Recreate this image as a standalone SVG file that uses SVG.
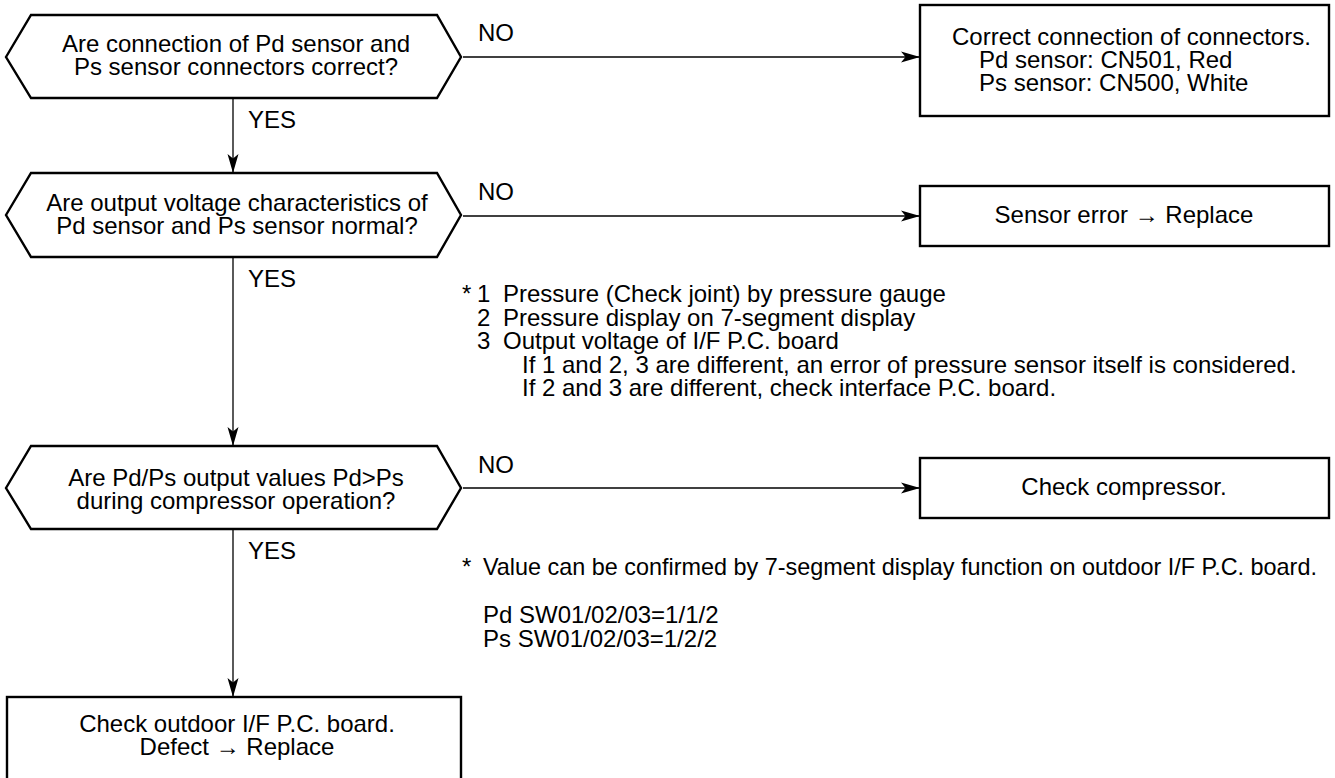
<svg xmlns="http://www.w3.org/2000/svg" width="1335" height="778" viewBox="0 0 1335 778">
  <style>
    .t { font-family: "Liberation Sans", Arial, sans-serif; font-size: 24px; fill: #000; }
    .s { font-size: 23.4px; }
    .c { text-anchor: middle; }
    .shape { fill: #fff; stroke: #000; stroke-width: 2.4; stroke-linejoin: miter; }
    .conn { fill: none; stroke: #000; stroke-width: 1.3; }
  </style>
  <defs>
    <marker id="arr" markerUnits="userSpaceOnUse" markerWidth="22" markerHeight="12" refX="19" refY="5.5" orient="auto" overflow="visible">
      <path d="M0,0 L19,5.5 L0,11 L4.5,5.5 Z" fill="#000"/>
    </marker>
  </defs>
  <rect width="1335" height="778" fill="#fff"/>

  <g id="connectors">
    <line class="conn" x1="233" y1="98" x2="233" y2="173" marker-end="url(#arr)"/>
    <line class="conn" x1="233" y1="257" x2="233" y2="446" marker-end="url(#arr)"/>
    <line class="conn" x1="233" y1="529" x2="233" y2="697" marker-end="url(#arr)"/>
    <line class="conn" x1="463" y1="57" x2="920" y2="57" marker-end="url(#arr)"/>
    <line class="conn" x1="463" y1="216" x2="920" y2="216" marker-end="url(#arr)"/>
    <line class="conn" x1="463" y1="488" x2="920" y2="488" marker-end="url(#arr)"/>
    <text class="t" x="248" y="128">YES</text>
    <text class="t" x="248" y="287">YES</text>
    <text class="t" x="248" y="559">YES</text>
    <text class="t" x="478" y="41">NO</text>
    <text class="t" x="478" y="200">NO</text>
    <text class="t" x="478" y="473">NO</text>
  </g>

  <g id="q1">
    <polygon class="shape" points="6,57 31,15 437,15 461,57 437,98 31,98"/>
    <text class="t c" x="236" y="52">Are connection of Pd sensor and</text>
    <text class="t c" x="236" y="75">Ps sensor connectors correct?</text>
  </g>

  <g id="q2">
    <polygon class="shape" points="6,215 31,173 437,173 461,215 437,257 31,257"/>
    <text class="t c" x="237" y="211">Are output voltage characteristics of</text>
    <text class="t c" x="237" y="234">Pd sensor and Ps sensor normal?</text>
  </g>

  <g id="q3">
    <polygon class="shape" points="6,488 31,446 437,446 461,488 437,529 31,529"/>
    <text class="t c" x="236" y="486">Are Pd/Ps output values Pd&gt;Ps</text>
    <text class="t c" x="236" y="509">during compressor operation?</text>
  </g>

  <g id="fix-connectors">
    <rect class="shape" x="920" y="5" width="409" height="111"/>
    <text class="t" x="952" y="45">Correct connection of connectors.</text>
    <text class="t" x="979" y="68">Pd sensor: CN501, Red</text>
    <text class="t" x="979" y="91">Ps sensor: CN500, White</text>
  </g>

  <g id="sensor-error">
    <rect class="shape" x="920" y="186" width="409" height="60"/>
    <text class="t c" x="1124" y="223">Sensor error → Replace</text>
  </g>

  <g id="check-compressor">
    <rect class="shape" x="920" y="458" width="409" height="60"/>
    <text class="t c" x="1124" y="495">Check compressor.</text>
  </g>

  <g id="check-board">
    <rect class="shape" x="7" y="697" width="454" height="90"/>
    <text class="t c" x="237" y="732">Check outdoor I/F P.C. board.</text>
    <text class="t c" x="237" y="755">Defect → Replace</text>
  </g>

  <g id="note1">
    <text class="t" x="462" y="302">*</text>
    <text class="t" x="477" y="302">1</text>
    <text class="t" x="503" y="302">Pressure (Check joint) by pressure gauge</text>
    <text class="t" x="477" y="325.5">2</text>
    <text class="t" x="503" y="325.5">Pressure display on 7-segment display</text>
    <text class="t" x="477" y="349">3</text>
    <text class="t" x="503" y="349">Output voltage of I/F P.C. board</text>
    <text class="t" x="522" y="372.5">If 1 and 2, 3 are different, an error of pressure sensor itself is considered.</text>
    <text class="t" x="522" y="396">If 2 and 3 are different, check interface P.C. board.</text>
  </g>

  <g id="note2">
    <text class="t" x="462" y="575">*</text>
    <text class="t s" x="483" y="575">Value can be confirmed by 7-segment display function on outdoor I/F P.C. board.</text>
    <text class="t" x="483" y="623">Pd SW01/02/03=1/1/2</text>
    <text class="t" x="483" y="647">Ps SW01/02/03=1/2/2</text>
  </g>
</svg>
